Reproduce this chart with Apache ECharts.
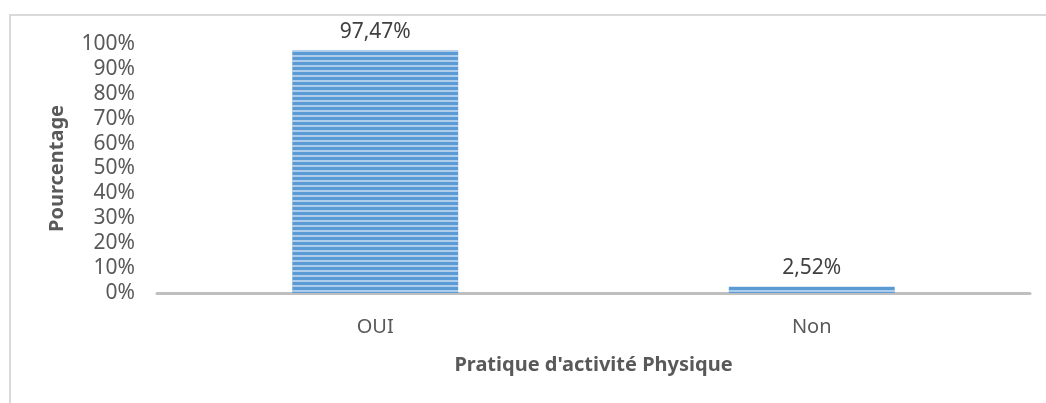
<!DOCTYPE html>
<html>
<head>
<meta charset="utf-8">
<script src="https://cdn.jsdelivr.net/npm/echarts@6/dist/echarts.min.js"></script>
<style>
  html, body { margin: 0; padding: 0; background: #fff; }
  #frame {
    position: absolute; left: 9px; top: 14px; width: 1037px; height: 389px;
    border-top: 2px solid #d9d9d9; border-left: 2px solid #d9d9d9;
    box-sizing: border-box;
  }
  #chart { position: absolute; left: 0; top: 0; width: 1046px; height: 403px; }
</style>
</head>
<body>
<div id="frame"></div>
<div id="chart"></div>
<script>
// valeurs
var categories = ["OUI", "Non"];
var values = [97.47, 2.52];
var yTicks = [0, 10, 20, 30, 40, 50, 60, 70, 80, 90, 100];

var chart = echarts.init(document.getElementById("chart"));
chart.setOption({
  textStyle: { fontFamily: "Noto Sans" },
  grid: { left: 157, right: 16, top: 44, bottom: 110 },
  xAxis: {
    type: "category",
    data: categories,
    name: "Pratique d'activité Physique",
    nameLocation: "middle",
    nameGap: 62,
    nameTextStyle: { color: "#595959", fontSize: 20, fontWeight: "bold" },
    axisLine: { lineStyle: { color: "#bfbfbf", width: 3 } },
    axisTick: { show: false },
    axisLabel: { color: "#595959", fontSize: 20, margin: 24 },
  },
  yAxis: {
    type: "value",
    min: yTicks[0],
    max: yTicks[yTicks.length - 1],
    interval: 10,
    name: "Pourcentage",
    nameLocation: "middle",
    nameGap: 90,
    nameTextStyle: { color: "#595959", fontSize: 20, fontWeight: "bold" },
    axisLine: { show: false },
    axisTick: { show: false },
    splitLine: { show: false },
    axisLabel: {
      color: "#595959",
      fontSize: 21,
      margin: 22,
      formatter: function (v) { return v + "%"; },
    },
  },
  series: [
    {
      type: "bar",
      data: values,
      barWidth: "38%",
      itemStyle: {
        color: "#5b9bd5",
        decal: {
          symbol: "rect",
          symbolSize: 1,
          dashArrayX: [1, 0],
          dashArrayY: [2, 3],
          color: "rgba(255,255,255,0.5)",
        },
      },
      label: {
        show: true,
        position: "top",
        distance: 8,
        color: "#404040",
        fontSize: 21,
        formatter: function (p) { return p.value.toFixed(2).replace(".", ",") + "%"; },
      },
    },
  ],
});
</script>
</body>
</html>
